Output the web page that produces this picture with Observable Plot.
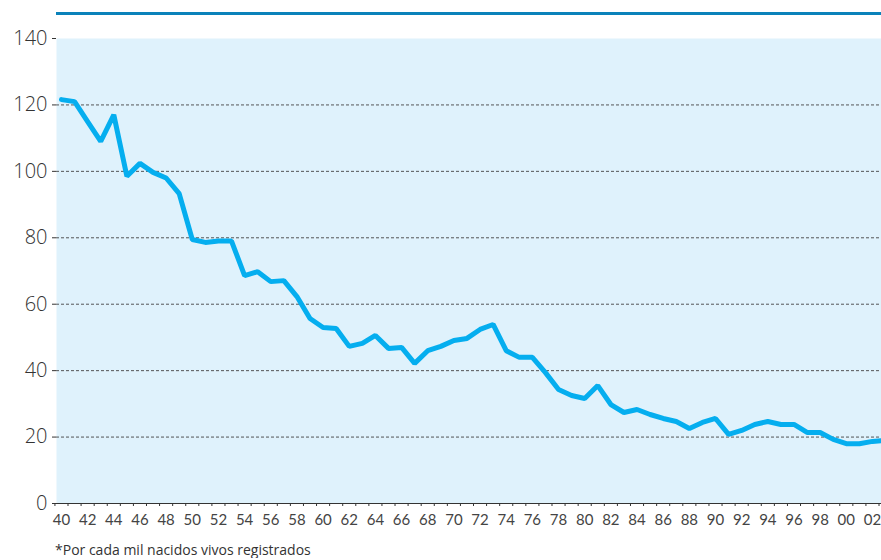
<!DOCTYPE html>
<html>
<head>
<meta charset="utf-8">
<script src="https://cdn.jsdelivr.net/npm/d3@7"></script>
<script src="https://cdn.jsdelivr.net/npm/@observablehq/plot@0.6"></script>
<style>
  body { margin: 0; background: #fff; font-family: Lato, "Open Sans", sans-serif; }
  #wrap { position: relative; width: 881px; }
  #topRule { position: absolute; left: 56px; top: 12px; width: 825px; height: 3px; background: #0a82ba; }
  #caption { font-family: "Open Sans", Lato, sans-serif; font-size: 14px; line-height: 16px; color: #333; margin: 6px 0 0 55px; }
  .yax text { font-family: "Open Sans", Lato, sans-serif; font-weight: 300; }
</style>
</head>
<body>
<div id="wrap">
  <div id="topRule"></div>
  <div id="chart"></div>
  <div id="caption">*Por cada mil nacidos vivos registrados</div>
</div>
<script>
const years = d3.range(1940, 2004);
const values = [
  121.6, 121, 115, 109, 117, 98.5, 102.4, 99.7, 98, 93.3,
  79.5, 78.6, 79, 79, 68.6, 69.8, 66.8, 67.1, 62.3, 55.7,
  53, 52.7, 47.3, 48.2, 50.6, 46.7, 47, 42.2, 46, 47.3,
  49.1, 49.7, 52.4, 53.9, 46, 44, 44, 39.4, 34.3, 32.5,
  31.6, 35.5, 29.8, 27.4, 28.3, 26.8, 25.6, 24.7, 22.6, 24.4,
  25.6, 20.8, 22, 23.8, 24.7, 23.8, 23.8, 21.4, 21.4, 19.3,
  18, 18, 18.7, 19.0
];
const yTicks = [0, 20, 40, 60, 80, 100, 120, 140];
const gridValues = [20, 40, 60, 80, 100, 120];
const labelYears = d3.range(1940, 2003, 2);
const tickYears = d3.range(1939.5, 2003, 1);

const data = years.map((year, i) => ({year, value: values[i]}));

const chart = Plot.plot({
  width: 881,
  height: 536,
  marginLeft: 56,
  marginRight: 0,
  marginTop: 38,
  marginBottom: 33,
  style: {fontFamily: "Lato, 'Open Sans', sans-serif", background: "transparent", color: "#333"},
  x: {domain: [1939.62, 2002.69]},
  y: {domain: [0, 140]},
  marks: [
    Plot.frame({fill: "#dff2fc", stroke: null}),
    Plot.ruleY(gridValues, {stroke: "#444", strokeWidth: 1, strokeDasharray: "3,2", strokeOpacity: 0.9}),
    Plot.axisY({ticks: yTicks, tickSize: 4, tickPadding: 5, fontSize: 20, label: null, className: "yax",
      tickFormat: d => String(d), stroke: "#333", fill: "#333"}),
    Plot.axisX({ticks: tickYears, tickSize: 3, tickFormat: () => "", label: null, stroke: "#333"}),
    Plot.axisX({ticks: labelYears, tickSize: 0, tickPadding: 11, fontSize: 15, label: null,
      tickFormat: d => String(d % 100).padStart(2, "0"), fill: "#444"}),
    Plot.ruleY([0], {stroke: "#333", strokeWidth: 1.2}),
    Plot.line(data, {x: "year", y: "value", stroke: "#05aeef", strokeWidth: 5, strokeLinejoin: "miter", clip: true})
  ]
});
document.getElementById("chart").appendChild(chart);
</script>
</body>
</html>
